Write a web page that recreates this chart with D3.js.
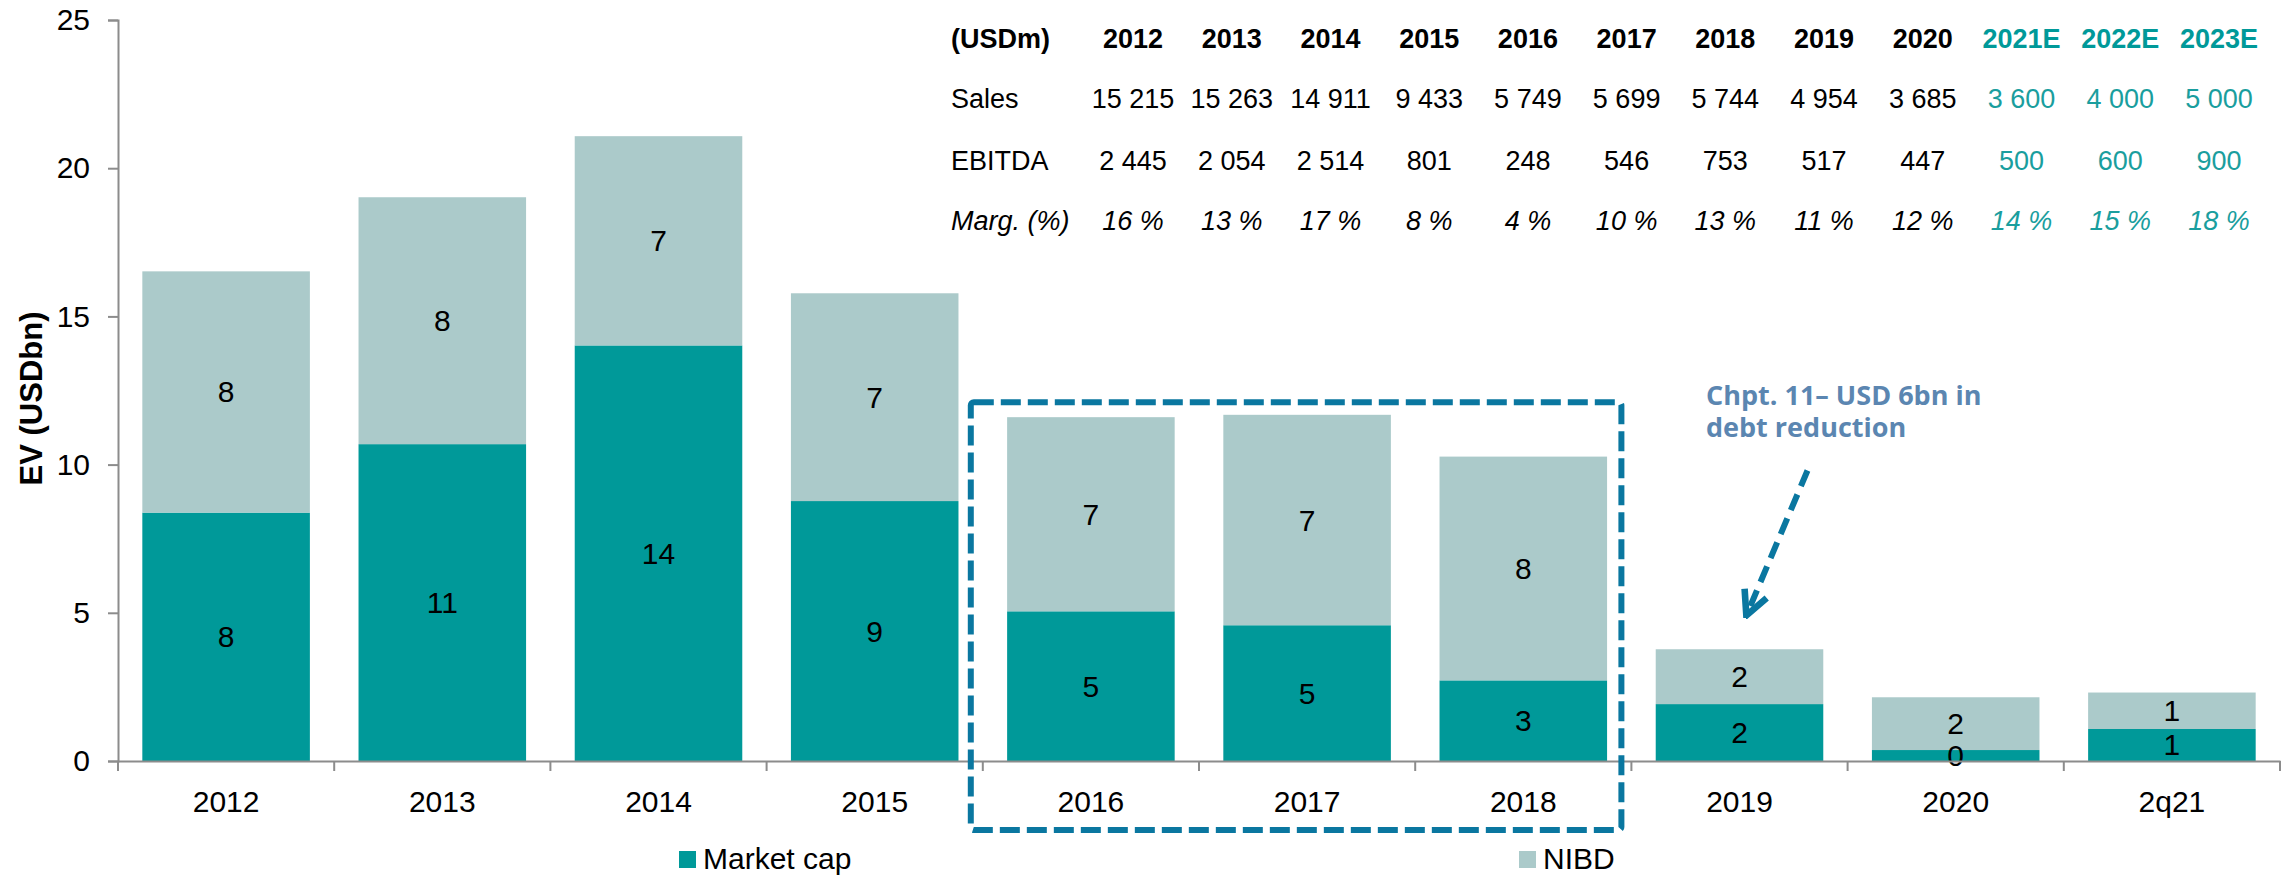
<html>
<script src="https://cdn.jsdelivr.net/npm/d3@7"></script>
<head>
    <style>
        body {
            margin: 0;
            background: white;
            font-family: "Liberation Sans", Arial, sans-serif;
        }
    </style>
</head>
<body>
    <svg id="chart"></svg>
    <script>
      // bars (USDbn)
      let categories = ["2012", "2013", "2014", "2015", "2016", "2017", "2018", "2019", "2020", "2q21"]
      let marketCap = [8.38, 10.69, 14.02, 8.77, 5.05, 4.58, 2.72, 1.92, 0.37, 1.08]
      let nibd = [8.14, 8.33, 7.06, 7.01, 6.55, 7.10, 7.55, 1.85, 1.78, 1.23]
      let yTicks = [0, 5, 10, 15, 20, 25]

      // table (USDm)
      let tableYears = ["2012", "2013", "2014", "2015", "2016", "2017", "2018", "2019", "2020", "2021E", "2022E", "2023E"]
      let sales = [15215, 15263, 14911, 9433, 5749, 5699, 5744, 4954, 3685, 3600, 4000, 5000]
      let ebitda = [2445, 2054, 2514, 801, 248, 546, 753, 517, 447, 500, 600, 900]
      let margins = [16, 13, 17, 8, 4, 10, 13, 11, 12, 14, 15, 18]
      let nActual = 9

      let width = 2282
      let height = 876
      let margin = { top: 20, bottom: 115, left: 118, right: 2 }
      let bodyWidth = width - margin.left - margin.right
      let bodyHeight = height - margin.top - margin.bottom

      let darkTeal = "#009999"
      let lightTeal = "#abcaca"
      let boxBlue = "#0a77a0"

      let svg = d3.select("#chart").attr("width", width).attr("height", height)

      let xScale = d3.scaleBand()
          .domain(categories)
          .range([margin.left, width - margin.right])
          .paddingInner(0.225)
          .paddingOuter(0.1125)

      let yScale = d3.scaleLinear()
          .domain([0, 25])
          .range([margin.top + bodyHeight, margin.top])

      let rows = categories.map((c, i) => ({ cat: c, mcap: marketCap[i], nibd: nibd[i] }))

      // stacked bars
      let bars = svg.append("g")
      bars.selectAll(".mcap").data(rows).enter().append("rect")
          .attr("x", d => xScale(d.cat))
          .attr("width", xScale.bandwidth())
          .attr("y", d => yScale(d.mcap))
          .attr("height", d => yScale(0) - yScale(d.mcap))
          .attr("fill", darkTeal)
      bars.selectAll(".nibd").data(rows).enter().append("rect")
          .attr("x", d => xScale(d.cat))
          .attr("width", xScale.bandwidth())
          .attr("y", d => yScale(d.mcap + d.nibd))
          .attr("height", d => yScale(d.mcap) - yScale(d.mcap + d.nibd))
          .attr("fill", lightTeal)

      // value labels
      let fmt0 = d3.format(".0f")
      let labels = svg.append("g").style("font-size", "30px").attr("text-anchor", "middle")
      labels.selectAll(".lm").data(rows).enter().append("text")
          .attr("x", d => xScale(d.cat) + xScale.bandwidth() / 2)
          .attr("y", d => yScale(d.mcap / 2))
          .attr("dy", "0.35em")
          .text(d => fmt0(d.mcap))
      labels.selectAll(".ln").data(rows).enter().append("text")
          .attr("x", d => xScale(d.cat) + xScale.bandwidth() / 2)
          .attr("y", d => yScale(d.mcap + d.nibd / 2))
          .attr("dy", "0.35em")
          .text(d => fmt0(d.nibd))

      // y axis
      let axisY = d3.axisLeft(yScale).tickValues(yTicks).tickSize(10).tickPadding(18)
      let gy = svg.append("g")
          .attr("transform", `translate(${margin.left},0)`)
          .call(axisY)
      gy.select(".domain").attr("stroke", "#8c8c8c").attr("stroke-width", 2)
      gy.selectAll(".tick line").attr("stroke", "#8c8c8c").attr("stroke-width", 2)
      gy.selectAll("text").style("font-size", "30px").style("font-family", "Liberation Sans, Arial").attr("fill", "black")

      // x axis, ticks between the categories
      let axisX = d3.axisBottom(xScale).tickSize(0).tickPadding(30)
      let gx = svg.append("g")
          .attr("transform", `translate(0,${yScale(0)})`)
          .call(axisX)
      gx.select(".domain").attr("stroke", "#8c8c8c").attr("stroke-width", 2)
      gx.selectAll("text").style("font-size", "30px").style("font-family", "Liberation Sans, Arial").attr("fill", "black")
      let bounds = d3.range(categories.length + 1).map(i => margin.left + i * xScale.step())
      gx.selectAll(".btick").data(bounds).enter().append("line")
          .attr("x1", d => d).attr("x2", d => d)
          .attr("y1", 0).attr("y2", 10)
          .attr("stroke", "#8c8c8c").attr("stroke-width", 2)

      // y axis title
      svg.append("text")
          .attr("transform", `translate(42,${yScale(12.5) + 8}) rotate(-90)`)
          .attr("text-anchor", "middle")
          .style("font-size", "31px")
          .style("font-weight", "bold")
          .text("EV (USDbn)")

      // table
      let colX = d3.scaleLinear().domain([0, tableYears.length - 1]).range([1133, 2219])
      let rowY = [48, 108, 170, 230]
      let fmtNum = d3.formatLocale({ decimal: ",", thousands: "\u00a0", grouping: [3], currency: ["", ""] }).format(",d")
      let table = svg.append("g").style("font-size", "27px")
      let rowNames = ["(USDm)", "Sales", "EBITDA", "Marg. (%)"]
      table.selectAll(".rowname").data(rowNames).enter().append("text")
          .attr("x", 951)
          .attr("y", (d, i) => rowY[i])
          .style("font-weight", (d, i) => i == 0 ? "bold" : "normal")
          .style("font-style", (d, i) => i == 3 ? "italic" : "normal")
          .text(d => d)
      let tableRows = [
          tableYears.map(d => d),
          sales.map(fmtNum),
          ebitda.map(fmtNum),
          margins.map(d => d + " %")
      ]
      tableRows.forEach((vals, r) => {
        table.selectAll(".r" + r).data(vals).enter().append("text")
            .attr("x", (d, i) => colX(i))
            .attr("y", rowY[r])
            .attr("text-anchor", "middle")
            .style("font-weight", r == 0 ? "bold" : "normal")
            .style("font-style", r == 3 ? "italic" : "normal")
            .attr("fill", (d, i) => i < nActual ? "black" : (r == 0 ? "#009999" : "#1a9e9e"))
            .text(d => d)
      })

      // dashed box around the chapter 11 years
      let boxLeft = bounds[4] - 12
      let boxRight = bounds[7] - 10
      let boxTop = yScale(12.1)
      let boxBottom = yScale(0) + 69
      svg.append("rect")
          .attr("x", boxLeft).attr("y", boxTop)
          .attr("width", boxRight - boxLeft).attr("height", boxBottom - boxTop)
          .attr("rx", 3)
          .attr("fill", "none")
          .attr("stroke", boxBlue)
          .attr("stroke-width", 6)
          .attr("stroke-dasharray", "20,7")

      // arrow
      svg.append("defs").append("marker")
          .attr("id", "head")
          .attr("viewBox", "0 0 10 10")
          .attr("refX", 8).attr("refY", 5)
          .attr("markerWidth", 5).attr("markerHeight", 5)
          .attr("orient", "auto")
          .append("path")
          .attr("d", "M1,1 L9,5 L1,9")
          .attr("fill", "none")
          .attr("stroke", boxBlue)
          .attr("stroke-width", 2.2)
      let tipX = xScale("2019") + xScale.bandwidth() / 2 + 8
      svg.append("line")
          .attr("x1", tipX + 60).attr("y1", yScale(9.8))
          .attr("x2", tipX).attr("y2", yScale(5.0))
          .attr("stroke", boxBlue)
          .attr("stroke-width", 6)
          .attr("stroke-dasharray", "17,9")
          .attr("marker-end", "url(#head)")

      let note = svg.append("text")
          .style("font-family", "Open Sans, sans-serif")
          .style("font-weight", "bold")
          .style("font-size", "27px")
          .attr("fill", "#5b86b1")
      note.append("tspan").attr("x", 1706).attr("y", 405).text("Chpt. 11\u2013 USD 6bn in")
      note.append("tspan").attr("x", 1706).attr("y", 437).text("debt reduction")

      // legend
      let legendItems = [
          { name: "Market cap", color: darkTeal, x: 679 },
          { name: "NIBD", color: lightTeal, x: 1519 }
      ]
      let legend = svg.append("g")
      legend.selectAll("rect").data(legendItems).enter().append("rect")
          .attr("x", d => d.x).attr("y", 851)
          .attr("width", 17).attr("height", 17)
          .attr("fill", d => d.color)
      legend.selectAll("text").data(legendItems).enter().append("text")
          .attr("x", d => d.x + 24).attr("y", 869)
          .style("font-size", "30px")
          .text(d => d.name)
    </script>
</body>
</html>
